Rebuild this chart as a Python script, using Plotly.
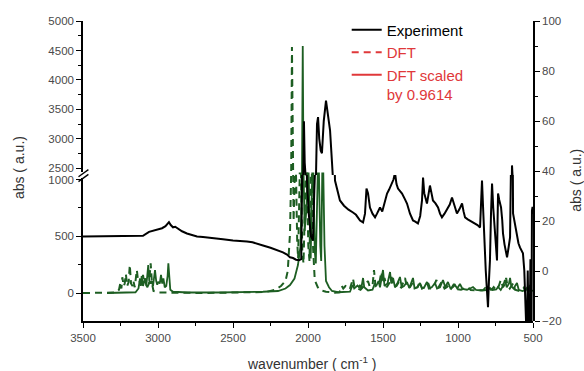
import plotly.graph_objects as go

# ---------------- data ----------------
exp_x = [3500, 3450, 3300, 3150, 3100, 3060, 3033, 3000, 2973, 2950, 2935, 2927, 2915, 2900, 2885,
         2867, 2840, 2807, 2770, 2740, 2700, 2650, 2600, 2567, 2500, 2450, 2407, 2370, 2340, 2300,
         2250, 2200, 2167, 2140, 2120, 2100, 2080, 2060, 2045, 2038, 2033, 2027, 2022, 2015, 2007,
         1995, 1980, 1967, 1958, 1948, 1940, 1933, 1925, 1915, 1907, 1895, 1885, 1880, 1872, 1862,
         1853, 1840, 1830, 1820, 1800, 1787, 1760, 1730, 1700, 1680, 1653, 1633, 1620, 1610, 1600,
         1587, 1570, 1553, 1540, 1520, 1505, 1490, 1473, 1460, 1453, 1440, 1430, 1420, 1410, 1400,
         1385, 1373, 1355, 1340, 1320, 1300, 1285, 1267, 1252, 1240, 1233, 1225, 1207, 1195, 1187,
         1175, 1167, 1150, 1133, 1120, 1107, 1090, 1073, 1055, 1040, 1025, 1007, 990, 973, 963,
         953, 935, 920, 900, 887, 870, 853, 847, 840, 833, 827, 815, 807, 800, 794,
         787, 780, 773, 765, 753, 745, 740, 736, 733, 725, 713, 705, 700, 690, 673,
         663, 653, 646, 640, 636, 633, 620, 607, 597, 587, 577, 567, 558, 550, 545,
         540, 535, 530, 522, 517, 513, 510, 507, 503, 500]
exp_y = [500, 500, 502, 505, 505, 540, 552, 560, 572, 590, 610, 625, 600, 580, 585,
         570, 545, 526, 510, 500, 495, 485, 478, 474, 465, 462, 456, 448, 438, 420,
         400, 380, 360, 340, 316, 310, 295, 290, 300, 1200, 2600, 3300, 2600, 1500, 1000,
         700, 500, 465, 900, 2600, 3250, 3370, 3000, 2800, 2755, 3300, 3600, 3650, 3500, 3300,
         3146, 2600, 1500, 991, 870, 816, 770, 735, 710, 690, 640, 623, 700, 921, 880,
         754, 700, 667, 700, 754, 720, 800, 877, 910, 930, 960, 1000, 1060, 960, 921,
         900, 877, 830, 789, 700, 640, 630, 614, 680, 816, 1017, 880, 789, 870, 947,
         870, 816, 790, 754, 700, 667, 700, 745, 780, 842, 780, 702, 740, 789, 720,
         667, 650, 640, 625, 614, 600, 579, 800, 991, 760, 526, 200, 26, -123, 100,
         289, 700, 965, 750, 526, 380, 289, 650, 877, 820, 754, 640, 526, 430, 316,
         400, 491, 1200, 2550, 1500, 702, 600, 491, 440, 403, 380, 351, 200, -300, -300,
         -300, 200, -300, -300, 300, 0, -300, 728, 760, 700]

dft_x = [3500, 3350, 3280, 3260, 3250, 3244, 3238, 3228, 3222, 3214, 3206, 3196, 3188, 3180, 3170,
         3164, 3155, 3146, 3141, 3132, 3118, 3110, 3100, 3092, 3083, 3072, 3060, 3049, 3040, 3030,
         3000, 2700, 2400, 2280, 2220, 2180, 2150, 2135, 2120, 2112, 2107, 2102, 2096, 2088, 2080,
         2072, 2066, 2055, 2047, 2038, 2030, 2015, 2007, 1998, 1990, 1982, 1974, 1966, 1955, 1935,
         1920, 1880, 1820, 1790, 1775, 1765, 1750, 1740, 1730, 1720, 1700, 1690, 1650, 1620, 1600,
         1590, 1570, 1560, 1550, 1525, 1511, 1500, 1490, 1475, 1460, 1443, 1430, 1410, 1394, 1380,
         1353, 1340, 1320, 1303, 1290, 1270, 1255, 1240, 1220, 1199, 1185, 1165, 1144, 1130, 1110,
         1090, 1075, 1061, 1045, 1027, 1010, 980, 960, 936, 915, 870, 830, 819, 800, 775,
         762, 745, 728, 715, 700, 685, 679, 670, 655, 631, 620, 590, 570, 562, 550,
         541, 530, 520, 510, 500]
dft_y = [-8.8, -8.8, -8.6, -7.5, -4.5, -7, -2.5, -6, -5, -1.2, -6, -4.5, 2.4, -5, -6,
         -4, -6.5, -2, 0.4, -4.5, -4.3, -5.5, -1.6, -5, -3, -6.5, -5, 3.1, -5, -8,
         -8.6, -8.8, -8.7, -8.4, -7.5, -6, -4, 0, 15, 40, 89.6, 40, 20, 39, 39,
         12, 5, 39, 39, 8, 3, 39, 39, 10, 4, 39, 39, 9, -3.6, -6.5,
         -7.6, -8.3, -8.7, -8.5, -6, -7, -6, -6.3, -6, -7, -3, -6.5, -7.5, -5.5, -4,
         -6, -6, 0.4, -6, -5, -0.4, -5, -2.8, -6.5, -5, -2.4, -6.5, -6, -4.4, -6.8,
         -2.8, -6.8, -6.5, -4.8, -7, -6.5, -4.4, -7, -6.5, -4.8, -7, -6.5, -3.6, -6.5, -4.4,
         -7, -6.5, -5.6, -7, -5.2, -7.2, -7.5, -7, -6.4, -7.6, -7.8, -7.6, -6.8, -7.6, -7.4,
         -6.4, -7.6, -6, -3.6, -6.5, -5, -2.8, -6, -7, -4.8, -7.5, -8, -7.6, -6.8, -8,
         -5.6, -7.8, -8, -8, -8]

scaled_x = [3340, 3200, 3150, 3130, 3120, 3114, 3109, 3100, 3093, 3087, 3078, 3070, 3065, 3058, 3050,
            3042, 3033, 3025, 3020, 3012, 3005, 2998, 2988, 2980, 2972, 2964, 2955, 2945, 2936, 2931,
            2925, 2918, 2900, 2800, 2600, 2400, 2300, 2200, 2150, 2120, 2090, 2067, 2050, 2040, 2035,
            2030, 2022, 2010, 2004, 1996, 1988, 1982, 1972, 1964, 1955, 1948, 1935, 1927, 1918, 1912,
            1905, 1898, 1890, 1880, 1860, 1840, 1800, 1720, 1705, 1700, 1692, 1680, 1670, 1660, 1653,
            1645, 1633, 1625, 1600, 1570, 1555, 1545, 1530, 1520, 1500, 1490, 1470, 1453, 1445, 1433,
            1420, 1405, 1387, 1375, 1360, 1340, 1325, 1300, 1290, 1270, 1253, 1240, 1225, 1207, 1195,
            1175, 1153, 1140, 1120, 1100, 1085, 1067, 1050, 1035, 1020, 1005, 987, 970, 940, 920,
            900, 880, 840, 800, 787, 770, 745, 733, 715, 700, 687, 675, 660, 653, 645,
            630, 607, 595, 570, 550, 540, 530, 520, 510, 500]
scaled_y = [-8.8, -8.7, -8.5, -7, -3, -6, -2, -6, -4, -3, -6, -2, 2.4, -4, -5,
            -4, -6, -2, 0.4, -4, -5.5, -4.3, -5, -1.6, -5, -3, -6.5, -6, -2, 3.1,
            -4, -7.5, -8.3, -8.6, -8.6, -8.5, -8.3, -8.0, -7.0, -5.6, -3, 2.4, 10, 40, 90,
            40, 16, 25, 39, 39, 12, 5, 39, 39, 8, 3, 39, 39, 10, 4,
            39, 39, 10, -4, -6.5, -8, -8.5, -8.3, -6, -5.6, -7, -6.5, -5.8, -6.5, -5.6,
            -7, -2.8, -6.5, -7.8, -7.5, -5, -6, -4, -6.5, 0.4, -6, -5, -0.4, -5, -2.8,
            -6.5, -5, -2.4, -6.5, -6, -4.4, -6.8, -2.8, -6.8, -6.5, -4.8, -7, -6.5, -4.4, -7,
            -6.5, -4.8, -7, -6.5, -3.6, -6.5, -4.4, -7, -6.5, -5.6, -7, -5.2, -7.2, -7.5, -7,
            -6.4, -7.6, -7.8, -7.6, -6.8, -7.6, -7.4, -6.4, -7.6, -6, -3.6, -6.5, -5, -2.8, -6,
            -7, -4.8, -7.5, -8, -7.6, -6.8, -8, -5.6, -7.8, -8]

x_ticks = [3500, 3000, 2500, 2000, 1500, 1000, 500]
lower_ticks = [0, 500, 1000]
upper_ticks = [2500, 3000, 3500, 4000, 4500, 5000]
right_ticks = [-20, 0, 20, 40, 60, 80, 100]

# ---------------- styles ----------------
GREEN = "#1d5e22"
RED = "#e0383a"
FONT = "Arial, Liberation Sans, sans-serif"
TICKCOL = "#4a4a4a"

fig = go.Figure()

# DFT curves on the right axis (yaxis, full height)
fig.add_trace(go.Scatter(x=dft_x, y=dft_y, mode="lines", yaxis="y", showlegend=False,
                         line=dict(color=GREEN, width=2, dash="7px,5px")))
fig.add_trace(go.Scatter(x=scaled_x, y=scaled_y, mode="lines", yaxis="y", showlegend=False,
                         line=dict(color=GREEN, width=1.8)))
# Experiment on the broken left axis (lower y2 and upper y3)
for ya in ("y2", "y3"):
    fig.add_trace(go.Scatter(x=exp_x, y=exp_y, mode="lines", yaxis=ya, showlegend=False,
                             line=dict(color="black", width=2)))

# legend entries
fig.add_trace(go.Scatter(x=[None], y=[None], mode="lines", yaxis="y", name="Experiment",
                         line=dict(color="black", width=2)))
fig.add_trace(go.Scatter(x=[None], y=[None], mode="lines", yaxis="y",
                         name=f"<span style='color:{RED}'>DFT</span>",
                         line=dict(color=RED, width=2, dash="7px,5px")))
fig.add_trace(go.Scatter(x=[None], y=[None], mode="lines", yaxis="y",
                         name=f"<span style='color:{RED}'>DFT scaled<br>by 0.9614</span>",
                         line=dict(color=RED, width=2)))

split = 146 / 300
axis_common = dict(showgrid=False, zeroline=False, showline=True, linecolor="black", linewidth=1.5,
                   ticks="outside", ticklen=5, tickwidth=1.3, tickcolor="black",
                   tickfont=dict(family=FONT, size=11.5, color=TICKCOL))

fig.update_layout(
    width=584, height=371,
    margin=dict(l=83, r=51, t=21, b=50),
    paper_bgcolor="white", plot_bgcolor="rgba(0,0,0,0)",
    font=dict(family=FONT),
    xaxis=dict(range=[3500, 500], tickvals=x_ticks, anchor="y2",
               minor=dict(dtick=250, ticks="outside", ticklen=3, tickcolor="black"),
               **axis_common),
    yaxis=dict(domain=[0, 1], range=[-20, 100], side="right", anchor="x", tickvals=right_ticks,
               minor=dict(dtick=10, ticks="outside", ticklen=3, tickcolor="black"),
               **axis_common),
    yaxis2=dict(domain=[0, split], range=[-244, 1040], side="left", anchor="x", tickvals=lower_ticks,
                minor=dict(tick0=0, dtick=250, ticks="outside", ticklen=3, tickcolor="black"),
                **axis_common),
    yaxis3=dict(domain=[split, 1], range=[2387, 5000], side="left", anchor="x", tickvals=upper_ticks,
                minor=dict(tick0=2500, dtick=250, ticks="outside", ticklen=3, tickcolor="black"),
                **axis_common),
    legend=dict(x=0.586, y=1.025, xanchor="left", yanchor="top", valign="top",
                bgcolor="rgba(0,0,0,0)", font=dict(family=FONT, size=15, color="black"),
                tracegroupgap=0),
    annotations=[
        dict(text="abs ( a.u.)", xref="paper", yref="paper", x=-0.142, y=0.51, textangle=-90,
             showarrow=False, xanchor="center", yanchor="middle",
             font=dict(family=FONT, size=14, color="#333")),
        dict(text="abs ( a.u.)", xref="paper", yref="paper", x=1.095, y=0.47, textangle=-90,
             showarrow=False, xanchor="center", yanchor="middle",
             font=dict(family=FONT, size=14, color="#333")),
        dict(text="wavenumber ( cm<sup>-1</sup> )", xref="paper", yref="paper", x=0.508, y=-0.14,
             showarrow=False, xanchor="center", yanchor="middle",
             font=dict(family=FONT, size=14, color="#333")),
    ],
    shapes=[
        dict(type="rect", xref="paper", yref="paper", x0=-0.01, x1=0.01, y0=split - 0.01, y1=split + 0.01,
             fillcolor="white", line=dict(width=0)),
        dict(type="line", xref="paper", yref="paper", x0=-0.01, x1=0.012, y0=split - 0.022, y1=split + 0.002,
             line=dict(color="black", width=1.3)),
        dict(type="line", xref="paper", yref="paper", x0=-0.01, x1=0.012, y0=split - 0.006, y1=split + 0.018,
             line=dict(color="black", width=1.3)),
    ],
)

fig.write_html("out.html", config={"displayModeBar": False},
               post_script="document.body.style.margin='0';")
